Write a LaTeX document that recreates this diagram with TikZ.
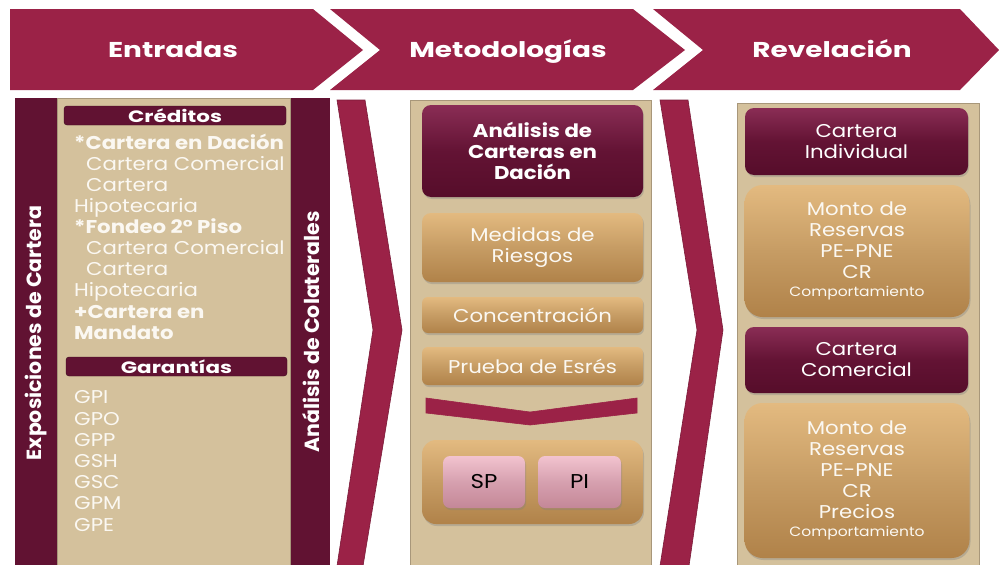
\documentclass[tikz,border=0pt]{standalone}
\usepackage{fontspec}
\setmainfont{Poppins}[FakeStretch=1.15]
\newfontfamily\widefont{Poppins}[FakeStretch=1.3]
\newfontfamily\plainfont{Poppins}
\usetikzlibrary{shadows}
\definecolor{crim}{HTML}{9B2247}
\definecolor{crimline}{HTML}{7A1A38}
\definecolor{dark}{HTML}{611232}
\definecolor{tan}{HTML}{D4C19C}
\definecolor{tanline}{HTML}{A8977A}
\definecolor{txtw}{HTML}{FBF8F2}
\definecolor{dtop}{HTML}{8A2D55}
\definecolor{dbot}{HTML}{560D2A}
\definecolor{dmid}{HTML}{631334}
\definecolor{gtop}{HTML}{E3BA80}
\definecolor{gbot}{HTML}{B08249}
\definecolor{gmid}{HTML}{C69C64}
\definecolor{ptop}{HTML}{F2C3CF}
\definecolor{pbot}{HTML}{C48797}
\definecolor{pmid}{HTML}{D6A0AF}
\newcommand{\smallfnt}{\fontsize{13.5}{15}\selectfont}
\tikzset{
  hdr/.style={fill=crim},
  hdrtxt/.style={anchor=base,text=white,font=\widefont\fontsize{21.5}{24}\selectfont\bfseries},
  sep/.style={fill=crim,draw=crimline,line width=0.6pt},
  darkbox/.style={rounded corners=9pt,top color=dtop,bottom color=dbot,middle color=dmid,
    drop shadow={opacity=0.35,shadow xshift=1pt,shadow yshift=-2pt},
    text=white,align=center,inner sep=0pt},
  goldbox/.style={rounded corners=9pt,top color=gtop,bottom color=gbot,middle color=gmid,
    drop shadow={opacity=0.35,shadow xshift=1pt,shadow yshift=-2pt},
    text=txtw,align=center,inner sep=0pt},
  pinkbox/.style={rounded corners=7pt,top color=ptop,bottom color=pbot,middle color=pmid,
    drop shadow={opacity=0.35,shadow xshift=1pt,shadow yshift=-2pt},
    text=black,inner sep=0pt,font=\fontsize{20}{22}\selectfont},
  barhead/.style={rounded corners=3pt,fill=dark,draw=dark!60!black,line width=0.4pt,text=white,
    font=\widefont\fontsize{16.5}{18}\selectfont\bfseries,inner sep=0pt,minimum height=19pt},
  ltxt/.style={anchor=base west,inner sep=0pt,text=txtw,font=\fontsize{18.5}{21}\selectfont},
  lbold/.style={ltxt,font=\fontsize{18.5}{21}\selectfont\bfseries},
  vtxt/.style={rotate=90,text=white,font=\plainfont\fontsize{20.5}{24}\selectfont\bfseries},
  btxt/.style={font=\fontsize{18.5}{21}\selectfont}
}
\begin{document}
\begin{tikzpicture}[x=1pt,y=-1pt]
\useasboundingbox (0,0) rectangle (999,565);
% header chevrons
\fill[hdr] (10,9) -- (313,9) -- (363,50) -- (313,90) -- (10,90) -- cycle;
\fill[hdr] (330,9) -- (633,9) -- (685,50) -- (633,90) -- (330,90) -- (380,50) -- cycle;
\fill[hdr] (653,9) -- (960,9) -- (999,50) -- (960,90) -- (653,90) -- (703,50) -- cycle;
\node[hdrtxt] (h1) at (173,57) {Entradas};
\node[hdrtxt] (h2) at (508,57) {Metodologías};
\node[hdrtxt] (h3) at (832,57) {Revelación};
% left panel
\fill[dark] (15,98) rectangle (330,565);
\filldraw[fill=tan,draw=tanline,line width=0.6pt] (57,98) rectangle (290,566);
\node[vtxt] (expo) at (36,333) {Exposiciones de Cartera};
\node[vtxt] (cola) at (311,332) {Análisis de Colaterales};
\node[barhead,minimum width=222pt] (cred) at (175,115.5) {Créditos};
\node[lbold] (l1) at (74,149) {*Cartera en Dación};
\node[ltxt] (l2) at (86,170) {Cartera Comercial};
\node[ltxt] (l3) at (86,191) {Cartera};
\node[ltxt] (l4) at (74,212) {Hipotecaria};
\node[lbold] (l5) at (74,233) {*Fondeo 2° Piso};
\node[ltxt] (l6) at (86,254) {Cartera Comercial};
\node[ltxt] (l7) at (86,275) {Cartera};
\node[ltxt] (l8) at (74,296) {Hipotecaria};
\node[lbold] (l9) at (74,318) {+Cartera en};
\node[lbold] (l10) at (74,339) {Mandato};
\node[barhead,minimum width=221pt] (gar) at (176.5,366.5) {Garantías};
\node[ltxt] (g1) at (74,403) {GPI};
\node[ltxt] (g2) at (74,425) {GPO};
\node[ltxt] (g3) at (74,446) {GPP};
\node[ltxt] (g4) at (74,467) {GSH};
\node[ltxt] (g5) at (74,488) {GSC};
\node[ltxt] (g6) at (74,509) {GPM};
\node[ltxt] (g7) at (74,531) {GPE};
% separators
\filldraw[sep] (337,100) -- (365,100) -- (402,330) -- (363,566) -- (337,566) -- (373,330) -- cycle;
\filldraw[sep] (660,100) -- (688,100) -- (723,330) -- (689,566) -- (660,566) -- (697,330) -- cycle;
% middle panel
\filldraw[fill=tan,draw=tanline,line width=0.6pt] (410,100) rectangle (651,566);
\node[darkbox,minimum width=221pt,minimum height=92pt,font=\fontsize{18.5}{21}\selectfont\bfseries] (ana) at (532.5,151) {Análisis de\\Carteras en\\Dación};
\node[goldbox,minimum width=221pt,minimum height=69pt,btxt] (med) at (532.5,247.5) {Medidas de\\Riesgos};
\node[goldbox,minimum width=221pt,minimum height=36pt,btxt,rounded corners=6pt] (conc) at (532.5,315) {Concentración};
\node[goldbox,minimum width=221pt,minimum height=38pt,btxt,rounded corners=6pt] (prue) at (532.5,366) {Prueba de Esrés};
\filldraw[sep,draw=crim] (426,398) -- (530,412) -- (637,398) -- (637,413) -- (530,425) -- (426,413) -- cycle;
\node[goldbox,minimum width=221pt,minimum height=84pt,rounded corners=14pt] (cont) at (532.5,482) {};
\node[pinkbox,minimum width=82pt,minimum height=52pt] (sp) at (484,482) {SP};
\node[pinkbox,minimum width=83pt,minimum height=52pt] (pi) at (579.5,482) {PI};
% right panel
\filldraw[fill=tan,draw=tanline,line width=0.6pt] (737,103) rectangle (979,566);
\node[darkbox,minimum width=223pt,minimum height=67pt,btxt] (ci) at (856.5,141.5) {Cartera\\Individual};
\node[goldbox,minimum width=225pt,minimum height=132pt,btxt,rounded corners=18pt] (m1) at (857,251) {Monto de\\Reservas\\PE-PNE\\CR\\[-3pt]{\smallfnt Comportamiento}};
\node[darkbox,minimum width=223pt,minimum height=66pt,btxt] (cc) at (856.5,360) {Cartera\\Comercial};
\node[goldbox,minimum width=225pt,minimum height=155pt,btxt,rounded corners=18pt] (m2) at (857,480.5) {Monto de\\Reservas\\PE-PNE\\CR\\Precios\\[-3pt]{\smallfnt Comportamiento}};
\end{tikzpicture}
\end{document}
